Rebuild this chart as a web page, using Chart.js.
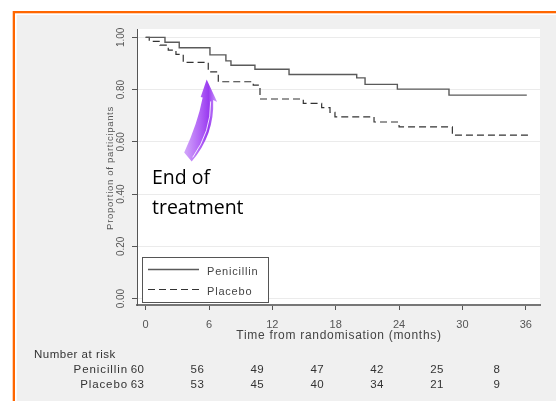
<!DOCTYPE html>
<html>
<head>
<meta charset="utf-8">
<script src="https://cdn.jsdelivr.net/npm/chart.js@4.4.0/dist/chart.umd.min.js"></script>
<style>
  html, body { margin: 0; padding: 0; background: #fff; }
  #wrap { width: 556px; height: 401px; }
</style>
</head>
<body>
<div id="wrap"><canvas id="kmChart" width="556" height="401"></canvas></div>
<script>
// =====================
// Data
// =====================
const penicillinTime = [0, 1.83, 3.18, 6.09, 7.6, 8.08, 10.35, 13.58, 19.99, 20.78, 23.84, 28.73, 36.1];
const penicillinSurv = [1.0, 0.981, 0.960, 0.933, 0.910, 0.893, 0.878, 0.858, 0.845, 0.820, 0.802, 0.779, 0.779];

const placeboTime = [0, 0.34, 1.35, 2.14, 2.87, 3.56, 5.93, 6.88, 10.19, 10.83, 14.93, 16.67, 17.46, 17.93, 21.63, 24.0, 29.05, 36.5];
const placeboSurv = [1.0, 0.985, 0.970, 0.951, 0.935, 0.904, 0.868, 0.830, 0.817, 0.764, 0.747, 0.731, 0.713, 0.696, 0.676, 0.657, 0.626, 0.626];

const xTicks = [0, 6, 12, 18, 24, 30, 36];
const yTicks = [0, 0.2, 0.4, 0.6, 0.8, 1.0];

const riskGroups = ['Penicillin', 'Placebo'];
const penicillinRisk = [60, 56, 49, 47, 42, 25, 8];
const placeboRisk = [63, 53, 45, 40, 34, 21, 9];

const FONT = '"Liberation Sans", Arial, sans-serif';

const toPoints = (xs, ys) => xs.map((x, i) => ({ x, y: ys[i] }));

// =====================
// Page decoration, labels, legend, risk table, arrow
// =====================
const pagePlugin = {
  id: 'pagePlugin',
  beforeDraw(chart) {
    const { ctx, width, height, chartArea: a } = chart;
    ctx.save();
    ctx.fillStyle = '#ffffff';
    ctx.fillRect(0, 0, width, height);
    ctx.fillStyle = '#ff6600';
    ctx.fillRect(12.7, 11, width, height);
    ctx.fillStyle = '#ffffff';
    ctx.fillRect(15, 13.3, width, height);
    ctx.fillStyle = '#f0f0f0';
    ctx.fillRect(16.7, 15, width, height);
    ctx.fillStyle = '#ffffff';
    ctx.fillRect(a.left, a.top, a.right - a.left, a.bottom - a.top);
    ctx.restore();
  },
  afterDraw(chart) {
    const { ctx } = chart;
    const xs = chart.scales.x;
    const ys = chart.scales.y;
    ctx.save();

    // y tick labels (vertical)
    ctx.fillStyle = '#555';
    ctx.font = '10px ' + FONT;
    ctx.textAlign = 'center';
    ctx.textBaseline = 'middle';
    yTicks.forEach(v => {
      ctx.save();
      ctx.translate(121, ys.getPixelForValue(v));
      ctx.rotate(-Math.PI / 2);
      ctx.fillText(v.toFixed(2), 0, 0);
      ctx.restore();
    });

    // y title
    ctx.save();
    ctx.font = '9.5px ' + FONT;
    ctx.letterSpacing = '0.7px';
    ctx.translate(110, 168);
    ctx.rotate(-Math.PI / 2);
    ctx.fillText('Proportion of participants', 0, 0);
    ctx.restore();

    // x title
    ctx.font = '12px ' + FONT;
    ctx.letterSpacing = '0.7px';
    ctx.fillStyle = '#444';
    ctx.fillText('Time from randomisation (months)', 339, 336);

    // legend box
    ctx.fillStyle = '#ffffff';
    ctx.fillRect(142, 257, 126, 45);
    ctx.strokeStyle = '#555';
    ctx.lineWidth = 1;
    ctx.strokeRect(142.5, 257.5, 126, 45);
    ctx.letterSpacing = '0.8px';
    chart.data.datasets.forEach((ds, i) => {
      const ly = 269.5 + i * 20;
      ctx.strokeStyle = ds.borderColor;
      ctx.lineWidth = ds.borderWidth;
      ctx.setLineDash(ds.borderDash || []);
      ctx.beginPath();
      ctx.moveTo(148, ly);
      ctx.lineTo(199, ly);
      ctx.stroke();
      ctx.setLineDash([]);
      ctx.fillStyle = '#444';
      ctx.font = '11px ' + FONT;
      ctx.textAlign = 'left';
      ctx.fillText(ds.label, 207, ly + 2.5);
    });

    // number at risk table
    ctx.fillStyle = '#333';
    ctx.font = '11.5px ' + FONT;
    ctx.letterSpacing = '0.5px';
    ctx.textAlign = 'left';
    ctx.fillText('Number at risk', 34, 355);
    [penicillinRisk, placeboRisk].forEach((row, r) => {
      const ry = 370 + r * 14.5;
      ctx.letterSpacing = '0.9px';
      ctx.textAlign = 'right';
      ctx.fillText(riskGroups[r], 128, ry);
      ctx.letterSpacing = '0.4px';
      ctx.textAlign = 'center';
      row.forEach((n, i) => ctx.fillText(String(n), 137.5 + i * 59.9, ry));
    });
    ctx.letterSpacing = '0px';

    // curved arrow pointing to end of treatment
    const tx = xs.getPixelForValue(5.78);
    const ty = ys.getPixelForValue(0.839);
    const g = ctx.createLinearGradient(tx - 22, 0, tx + 12, 0);
    g.addColorStop(0, '#d2a6fa');
    g.addColorStop(0.45, '#b163f6');
    g.addColorStop(0.7, '#9a3cf0');
    g.addColorStop(1, '#d8b2ff');
    ctx.fillStyle = g;
    ctx.beginPath();
    ctx.moveTo(tx - 22.5, ty + 73);
    ctx.quadraticCurveTo(tx - 9, ty + 44, tx - 4, ty + 18);
    ctx.lineTo(tx - 6, ty + 17.5);
    ctx.lineTo(tx, ty);
    ctx.lineTo(tx + 10.5, ty + 22.5);
    ctx.lineTo(tx + 6.5, ty + 20.5);
    ctx.quadraticCurveTo(tx + 8, ty + 55, tx - 15, ty + 82);
    ctx.closePath();
    ctx.fill();
    ctx.strokeStyle = 'rgba(255,255,255,0.85)';
    ctx.lineWidth = 1;
    ctx.beginPath();
    ctx.moveTo(tx + 4, ty + 22);
    ctx.quadraticCurveTo(tx + 4.5, ty + 52, tx - 14, ty + 78);
    ctx.stroke();

    // annotation text
    ctx.fillStyle = '#000';
    ctx.font = '19.5px "Open Sans", sans-serif';
    ctx.textAlign = 'left';
    ctx.textBaseline = 'alphabetic';
    ctx.fillText('End of', 152, 183.5);
    ctx.fillText('treatment', 152, 213.5);

    ctx.restore();
  }
};

// =====================
// Render Kaplan-Meier Chart
// =====================
const ctx = document.getElementById('kmChart').getContext('2d');
new Chart(ctx, {
  type: 'line',
  data: {
    datasets: [
      {
        label: 'Penicillin',
        data: toPoints(penicillinTime, penicillinSurv),
        stepped: true,
        borderColor: '#5a5a5a',
        borderWidth: 1.4,
        pointRadius: 0,
        fill: false
      },
      {
        label: 'Placebo',
        data: toPoints(placeboTime, placeboSurv),
        stepped: true,
        borderColor: '#333333',
        borderWidth: 1.2,
        borderDash: [7, 4],
        pointRadius: 0,
        fill: false
      }
    ]
  },
  options: {
    responsive: false,
    animation: false,
    layout: { padding: { left: 0, top: 29, right: 16, bottom: 0 } },
    plugins: {
      legend: { display: false },
      tooltip: { enabled: false }
    },
    scales: {
      x: {
        type: 'linear',
        min: -0.82,
        max: 37.35,
        afterBuildTicks: s => { s.ticks = xTicks.map(v => ({ value: v })); },
        afterFit: s => { s.height = 96; },
        grid: { drawOnChartArea: false, tickLength: 5, tickColor: '#555' },
        border: { color: '#777', width: 2 },
        ticks: { color: '#555', font: { family: FONT, size: 11 }, padding: 8, maxRotation: 0 }
      },
      y: {
        type: 'linear',
        min: -0.0245,
        max: 1.032,
        afterBuildTicks: s => { s.ticks = yTicks.map(v => ({ value: v })); },
        afterFit: s => { s.width = 137; },
        grid: { color: '#ebebeb', tickLength: 5, tickColor: '#555' },
        border: { color: '#555', width: 1 },
        ticks: { display: false }
      }
    }
  },
  plugins: [pagePlugin]
});
</script>
</body>
</html>
